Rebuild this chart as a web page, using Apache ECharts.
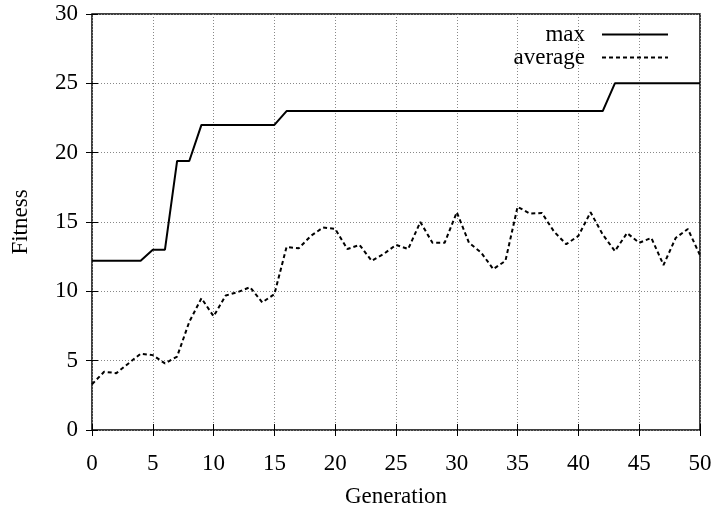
<!DOCTYPE html>
<html lang="en">

<head>
  <meta charset="utf-8">
  <title>Fitness per Generation</title>
  <style>
    * {
      margin: 0;
      padding: 0;
    }

    #chart-container {
      position: relative;
      width: 714px;
      height: 506px;
      overflow: hidden;
    }
  </style>
</head>

<body>
  <div id="chart-container"></div>
  <script src="https://cdn.jsdelivr.net/npm/echarts@6/dist/echarts.min.js"></script>
  <script>
    var dom = document.getElementById('chart-container');
    var myChart = echarts.init(dom, null, {
      renderer: 'canvas',
      useDirtyRect: false
    });

    var generations = [];
    for (var g = 0; g <= 50; g++) generations.push(g);

    // best individual per generation
    var maxFitness = [
      12.2, 12.2, 12.2, 12.2, 12.2, 13.0, 13.0, 19.4, 19.4, 22.0,
      22.0, 22.0, 22.0, 22.0, 22.0, 22.0, 23.0, 23.0, 23.0, 23.0,
      23.0, 23.0, 23.0, 23.0, 23.0, 23.0, 23.0, 23.0, 23.0, 23.0,
      23.0, 23.0, 23.0, 23.0, 23.0, 23.0, 23.0, 23.0, 23.0, 23.0,
      23.0, 23.0, 23.0, 25.0, 25.0, 25.0, 25.0, 25.0, 25.0, 25.0,
      25.0
    ];

    // population average per generation
    var avgFitness = [
      3.3, 4.2, 4.1, 4.8, 5.5, 5.4, 4.8, 5.3, 7.8, 9.5,
      8.2, 9.7, 9.95, 10.3, 9.2, 9.8, 13.2, 13.1, 14.0, 14.6,
      14.5, 13.05, 13.35, 12.2, 12.7, 13.35, 13.05, 15.0, 13.5, 13.5,
      15.7, 13.5, 12.8, 11.6, 12.2, 16.1, 15.6, 15.65, 14.3, 13.4,
      14.0, 15.7, 14.1, 12.9, 14.2, 13.5, 13.85, 11.9, 13.85, 14.5,
      12.6
    ];

    var font = 'Liberation Serif';
    var fs = 23;

    function pairs(ys) {
      return generations.map(function (x, i) { return [x, ys[i]]; });
    }

    var option = {
      backgroundColor: '#fff',
      animation: false,
      textStyle: { fontFamily: font },
      grid: {
        left: 92,
        right: 14,
        top: 14,
        bottom: 76,
        show: true,
        borderColor: '#000',
        borderWidth: 1.5,
        containLabel: false,
        outerBoundsMode: 'none'
      },
      legend: {
        right: 45,
        top: 23,
        padding: 0,
        orient: 'vertical',
        align: 'right',
        itemWidth: 66,
        itemHeight: 14,
        itemGap: 0,
        itemStyle: { opacity: 0 },
        lineStyle: { width: 2 },
        textStyle: { fontFamily: font, fontSize: fs, lineHeight: 23, color: '#000', padding: [0, 12, 0, 0] },
        data: ['max', 'average']
      },
      xAxis: [
        {
          type: 'value',
          min: 0,
          max: 50,
          interval: 5,
          name: 'Generation',
          nameLocation: 'middle',
          nameGap: 55,
          nameTextStyle: { fontFamily: font, fontSize: fs, color: '#000' },
          axisLine: { show: false },
          axisTick: { inside: true, length: 6, lineStyle: { color: '#000' } },
          axisLabel: { margin: 22, fontFamily: font, fontSize: fs, color: '#000' },
          splitLine: { show: true, lineStyle: { type: [1, 2], color: '#888' } }
        },
        {
          type: 'value',
          position: 'top',
          min: 0,
          max: 50,
          interval: 5,
          axisLine: { show: false },
          axisTick: { inside: true, length: 6, lineStyle: { color: '#000' } },
          axisLabel: { show: false },
          splitLine: { show: false }
        }
      ],
      yAxis: [
        {
          type: 'value',
          min: 0,
          max: 30,
          interval: 5,
          name: 'Fitness',
          nameLocation: 'middle',
          nameGap: 60,
          nameTextStyle: { fontFamily: font, fontSize: fs, color: '#000' },
          axisLine: { show: false },
          axisTick: { show: true, inside: true, length: 6, lineStyle: { color: '#000' } },
          axisLabel: { margin: 14, fontFamily: font, fontSize: fs, color: '#000' },
          splitLine: { show: true, lineStyle: { type: [1, 2], color: '#888' } }
        },
        {
          type: 'value',
          position: 'right',
          min: 0,
          max: 30,
          interval: 5,
          axisLine: { show: false },
          axisTick: { show: true, inside: true, length: 6, lineStyle: { color: '#000' } },
          axisLabel: { show: false },
          splitLine: { show: false }
        }
      ],
      series: [
        {
          name: 'max',
          type: 'line',
          data: pairs(maxFitness),
          symbol: 'none',
          color: '#000',
          lineStyle: { width: 2, color: '#000' }
        },
        {
          name: 'average',
          type: 'line',
          data: pairs(avgFitness),
          symbol: 'none',
          color: '#000',
          lineStyle: { width: 2, color: '#000', type: [4, 3] }
        }
      ]
    };

    if (option && typeof option === 'object') {
      myChart.setOption(option);
    }

    window.addEventListener('resize', myChart.resize);
  </script>
</body>

</html>
